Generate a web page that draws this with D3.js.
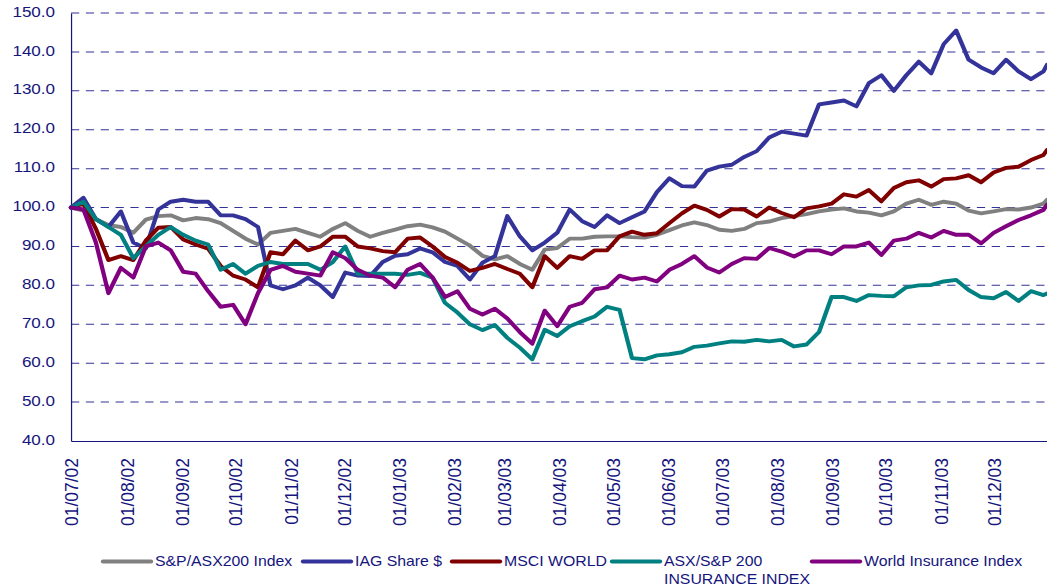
<!DOCTYPE html>
<html lang="en">
<head>
<meta charset="UTF-8">
<title>IAG vs indices</title>
<script src="https://d3js.org/d3.v7.min.js"></script>
<style>
    body { margin: 0; padding: 0; background: #fff; }
    svg { display: block; }
    text { font-family: "Liberation Sans", Arial, sans-serif; fill: #15157d; }
</style>
</head>
<body>
<svg id="chart"></svg>
<script>
// weekly observations, indexed to 100 at 01/07/02
const dates = [
    "2002-07-01","2002-07-08","2002-07-15","2002-07-22","2002-07-29","2002-08-05","2002-08-12","2002-08-19","2002-08-26","2002-09-02",
    "2002-09-09","2002-09-16","2002-09-23","2002-09-30","2002-10-07","2002-10-14","2002-10-21","2002-10-28","2002-11-04","2002-11-11",
    "2002-11-18","2002-11-25","2002-12-02","2002-12-09","2002-12-16","2002-12-23","2002-12-30","2003-01-06","2003-01-13","2003-01-20",
    "2003-01-27","2003-02-03","2003-02-10","2003-02-17","2003-02-24","2003-03-03","2003-03-10","2003-03-17","2003-03-24","2003-03-31",
    "2003-04-07","2003-04-14","2003-04-21","2003-04-28","2003-05-05","2003-05-12","2003-05-19","2003-05-26","2003-06-02","2003-06-09",
    "2003-06-16","2003-06-23","2003-06-30","2003-07-07","2003-07-14","2003-07-21","2003-07-28","2003-08-04","2003-08-11","2003-08-18",
    "2003-08-25","2003-09-01","2003-09-08","2003-09-15","2003-09-22","2003-09-29","2003-10-06","2003-10-13","2003-10-20","2003-10-27",
    "2003-11-03","2003-11-10","2003-11-17","2003-11-24","2003-12-01","2003-12-08","2003-12-15","2003-12-22","2003-12-29","2003-12-31"
];

const asx200 = [
    100, 99.2, 97, 95.5, 95, 93.5, 96.9, 97.8, 98, 96.7,
    97.3, 97, 96, 94, 92, 90.5, 93.5, 94, 94.5, 93.5,
    92.5, 94.5, 96, 94, 92.5, 93.5, 94.3, 95.2, 95.6, 94.9,
    93.8, 92, 90.2, 87.6, 86.7, 87.5, 85.5, 84, 89.2, 89.6,
    92, 92, 92.5, 92.6, 92.6, 92.4, 92.3, 93, 94.2, 95.4,
    96.2, 95.5, 94.3, 94, 94.5, 96, 96.4, 97.3, 97.8, 98.3,
    99, 99.5, 99.8, 99, 98.7, 98, 99, 101, 102, 100.7,
    101.5, 101, 99.2, 98.5, 99, 99.6, 99.5, 100, 101, 102
];

const iagShare = [
    100, 102.5, 97, 95, 99, 91, 89.5, 99.5, 101.5, 102,
    101.5, 101.5, 98, 98, 97, 95, 80, 79, 80, 82,
    80, 77, 83.3, 82.5, 82.4, 86, 87.6, 88, 89.5, 88.5,
    86, 85, 81.5, 85.8, 87.5, 97.8, 92.6, 89, 91, 93.5,
    99.5, 96.5, 95, 98, 96, 97.5, 99, 104, 107.5, 105.5,
    105.4, 109.5, 110.5, 111, 113, 114.5, 118, 119.5, 119, 118.5,
    126.5, 127, 127.5, 126, 132, 134, 130, 134, 137.5, 134.5,
    142, 145.5, 138, 136, 134.5, 138, 135, 133, 135, 136.7
];

const msciWorld = [
    100, 101, 94.5, 86.5, 87.5, 86.5, 91.5, 94.8, 95, 91.8,
    90.5, 89.4, 85, 82.5, 81.5, 79.5, 88.5, 88, 91.5, 89,
    90, 92.5, 92.5, 90, 89.5, 88.8, 88.5, 92, 92.3, 90,
    87.3, 85.8, 83.7, 84.5, 85.5, 84.2, 83, 79.5, 87.5, 84.5,
    87.5, 86.8, 89, 89, 92.6, 93.8, 93, 93.4, 96, 98.5,
    100.5, 99.4, 97.7, 99.6, 99.5, 97.7, 100, 98.6, 97.5, 99.8,
    100.3, 101, 103.4, 102.8, 104.5, 101.6, 105, 106.5, 107, 105.4,
    107.3, 107.5, 108.3, 106.5, 109, 110.2, 110.5, 112.2, 113.5, 114.8
];

const asxInsurance = [
    100, 101.5, 97, 95, 93, 87, 90, 93, 95, 93,
    91.5, 90.5, 84, 85.5, 83, 85, 86, 85.5, 85.5, 85.5,
    84, 86, 90, 83, 83, 83, 83, 82.7, 83.2, 82,
    75.5, 73, 70, 68.5, 69.8, 66.5, 64, 61, 68.6, 67,
    69.5, 70.8, 72, 74.5, 73.7, 61.3, 61, 62, 62.3, 62.8,
    64.2, 64.5, 65.1, 65.6, 65.5, 66, 65.6, 66, 64.3, 64.8,
    68, 77, 77, 76, 77.5, 77.3, 77.2, 79.5, 80, 80.1,
    81, 81.4, 78.8, 77, 76.7, 78.3, 76, 78.5, 77.5, 77.9
];

const worldInsurance = [
    100, 99.5, 91, 78, 84.5, 82, 90, 91, 89, 83.5,
    83, 78.5, 74.5, 75, 70, 78, 84, 85, 83.5, 83,
    82.5, 88.5, 87, 84, 82.5, 82, 79.5, 84, 85.5, 82,
    77, 78.5, 74, 72.5, 74, 71.5, 68, 65, 73.5, 69.5,
    74.5, 75.5, 79, 79.5, 82.5, 81.5, 82, 81, 84, 85.5,
    87.5, 84.6, 83.3, 85.5, 87, 86.8, 89.6, 88.7, 87.4, 89,
    89, 88, 90, 90, 91, 87.8, 91.5, 92, 93.5, 92.3,
    94, 93, 93, 90.8, 93.5, 95.2, 96.8, 98, 99.4, 100.7
];

const seriesNames = ["S&P/ASX200 Index", "IAG Share $", "MSCI WORLD", "ASX/S&P 200|INSURANCE INDEX", "World Insurance Index"];
const seriesColors = ["#808080", "#333399", "#800000", "#008080", "#800080"];
const seriesValues = [asx200, iagShare, msciWorld, asxInsurance, worldInsurance];
const yTicks = [40, 50, 60, 70, 80, 90, 100, 110, 120, 130, 140, 150];

// the picture is stretched a bit wider than it is tall, so draw in a narrower viewBox
const SX = 1.1;
const W = 1047, H = 588;
const VW = W / SX;
const plotLeft = 71 / SX, plotRight = VW, plotTop = 13, plotBottom = 441;

const svg = d3.select("#chart")
    .attr("width", W)
    .attr("height", H)
    .attr("viewBox", `0 0 ${VW} ${H}`)
    .attr("preserveAspectRatio", "none");

const parse = d3.timeParse("%Y-%m-%d");
const dateObjs = dates.map(parse);

const x = d3.scaleTime()
    .domain([new Date(2002, 6, 1), new Date(2003, 11, 31)])
    .range([plotLeft, plotRight]);

const y = d3.scaleLinear()
    .domain([40, 150])
    .range([plotBottom, plotTop]);

// gridlines
svg.append("g")
    .selectAll("line")
    .data(yTicks.filter(t => t > 40))
    .enter()
    .append("line")
    .attr("x1", plotLeft)
    .attr("x2", plotRight)
    .attr("y1", d => y(d))
    .attr("y2", d => y(d))
    .attr("stroke", "#333399")
    .attr("stroke-width", 1)
    .attr("stroke-dasharray", "7.5,6");

// y axis
const yAxis = svg.append("g")
    .attr("transform", `translate(${plotLeft},0)`)
    .call(d3.axisLeft(y).tickValues(yTicks).tickFormat(d3.format(".1f")).tickSize(0).tickPadding(14.5));
yAxis.select(".domain").attr("stroke", "#15157d").attr("stroke-width", 1.1);
yAxis.selectAll("text")
    .attr("dy", "0.2em")
    .style("font-size", "15.5px")
    .style("fill", "#15157d");

// x axis
const monthTicks = d3.timeMonth.range(new Date(2002, 6, 1), new Date(2003, 11, 2));
const xAxis = svg.append("g")
    .attr("transform", `translate(0,${plotBottom})`)
    .call(d3.axisBottom(x).tickValues(monthTicks).tickFormat(d3.timeFormat("%d/%m/%y")).tickSize(0).tickSizeOuter(0));
xAxis.select(".domain").attr("stroke", "#15157d").attr("stroke-width", 1.1);
xAxis.selectAll("text")
    .attr("transform", "rotate(-90)")
    .attr("text-anchor", "end")
    .attr("x", -17)
    .attr("y", 0)
    .attr("dy", "0.36em")
    .style("font-size", "17.5px")
    .style("fill", "#15157d");

// series lines
const line = d3.line()
    .x(d => x(d.date))
    .y(d => y(d.v));

seriesValues.forEach((vals, k) => {
    const pts = vals.map((v, i) => ({ date: dateObjs[i], v: v }));
    svg.append("path")
        .datum(pts)
        .attr("fill", "none")
        .attr("stroke", seriesColors[k])
        .attr("stroke-width", 3.9)
        .attr("stroke-linejoin", "round")
        .attr("stroke-linecap", "round")
        .attr("d", line);
});

// legend
const legendX = [103, 303, 452, 612, 812];
const legend = svg.append("g");
seriesNames.forEach((name, k) => {
    const lx = legendX[k] / SX;
    legend.append("line")
        .attr("x1", lx)
        .attr("x2", lx + 48 / SX)
        .attr("y1", 561.5)
        .attr("y2", 561.5)
        .attr("stroke", seriesColors[k])
        .attr("stroke-width", 4)
        .attr("stroke-linecap", "round");
    const t = legend.append("text")
        .attr("x", lx + 52 / SX)
        .attr("y", 566.5)
        .style("font-size", "14.4px");
    name.split("|").forEach((part, j) => {
        t.append("tspan")
            .attr("x", lx + 52 / SX)
            .attr("dy", j === 0 ? 0 : 18)
            .text(part);
    });
});
</script>
</body>
</html>
